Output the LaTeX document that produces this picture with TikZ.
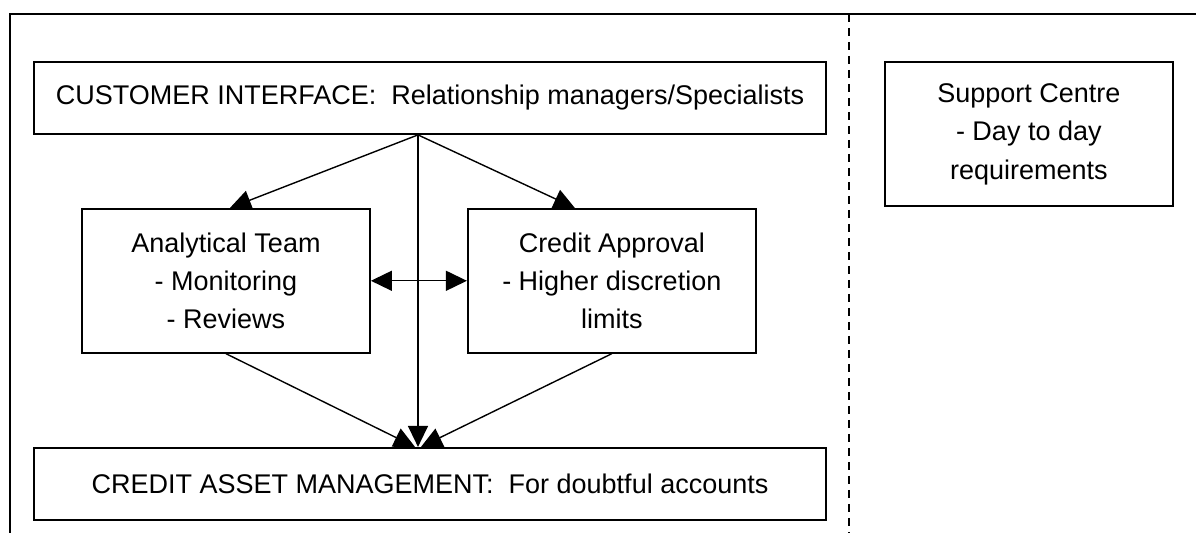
\documentclass[tikz,border=0pt]{standalone}
\usepackage{fontspec}
\setmainfont{Liberation Sans}
\usetikzlibrary{arrows.meta,positioning}

\begin{document}
\begin{tikzpicture}[
  x=0.5pt, y=-0.5pt,
  box/.style={rectangle, draw, line width=0.9pt,
              minimum width=144pt, minimum height=72pt,
              align=center, inner sep=0pt,
              font=\fontsize{13.5}{19.2}\selectfont},
  widebox/.style={box, minimum width=396pt, minimum height=36pt},
  arr/.style={-{Triangle[length=10.5pt, width=10pt]}, line width=0.7pt},
  darr/.style={{Triangle[length=10.5pt, width=10pt]}-{Triangle[length=10.5pt, width=10pt]}, line width=0.7pt},
  frame/.style={line width=0.9pt}
]
\useasboundingbox (0,0) rectangle (1196,533);

%% ── Frame ──────────────────────────────────────────────────────
\draw[frame] (1200,14) -| (10,540);
\draw[line width=0.7pt, dash pattern=on 4pt off 3pt] (849,14) -- (849,540);

%% ── Nodes ──────────────────────────────────────────────────────
\node[widebox] (cust) at (430,98)
  {CUSTOMER INTERFACE:\ \ Relationship managers/Specialists};

\node[box, right=28.5pt of cust.north east, anchor=north west] (support) {
  Support Centre\\
  - Day to day\\
  requirements
};

\node[box, below right=36.5pt and 24pt of cust.south west] (anal) {
  Analytical Team\\
  - Monitoring\\
  - Reviews
};

\node[box, right=48pt of anal] (approval) {
  Credit Approval\\
  - Higher discretion\\
  limits
};

\node[widebox, below=156pt of cust] (cam)
  {CREDIT ASSET MANAGEMENT:\ \ For doubtful accounts};

\coordinate (apex) at ([xshift=-6pt]cust.south);

%% ── Arrows ─────────────────────────────────────────────────────
\draw[arr] (apex) -- ([xshift=2pt]anal.north);
\draw[arr] (apex) -- ([xshift=-18.5pt]approval.north);
\draw[arr] (apex) -- (apex |- cam.north);
\draw[darr] (anal) -- (approval);
\draw[arr] (anal.south) -- ([xshift=-1.5pt]apex |- cam.north);
\draw[arr] (approval.south) -- ([xshift=1.5pt]apex |- cam.north);

\end{tikzpicture}
\end{document}
